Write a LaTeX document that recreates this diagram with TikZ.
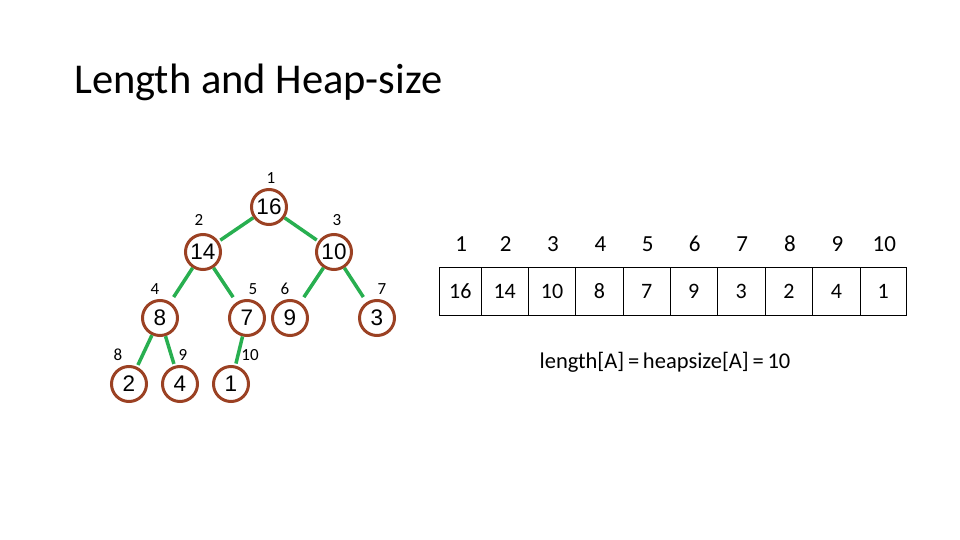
\documentclass[tikz,border=0pt]{standalone}
\usepackage{fontspec}
\setmainfont{Carlito}
\newfontfamily\numfont{Liberation Sans}
\definecolor{nodebrown}{RGB}{155,65,35}
\definecolor{edgegreen}{RGB}{40,175,80}
\begin{document}
\begin{tikzpicture}[x=1pt,y=-1pt,
  hnode/.style={circle,draw=nodebrown,line width=3pt,minimum size=35pt,inner sep=0pt,font=\numfont\fontsize{22.5}{23}\selectfont},
  hedge/.style={draw=edgegreen,line width=3.5pt,shorten >=2pt},
  idx/.style={font=\fontsize{17}{18}\selectfont,inner sep=0pt},
  cell/.style={draw=black,line width=0.8pt,minimum height=48pt,inner sep=0pt,font=\fontsize{22}{23}\selectfont},
  aidx/.style={font=\fontsize{23}{24}\selectfont,inner sep=0pt}]
\useasboundingbox (0,0) rectangle (960,540);
\node[anchor=base west,inner sep=0pt,font=\fontsize{42.5}{48}\selectfont] (title) at (74,94) {Length and Heap-size};
% tree
\node[hnode] (n1) at (269,207) {16};
\node[hnode] (n2) at (203,252) {14};
\node[hnode] (n3) at (334,252) {10};
\node[hnode] (n4) at (160,318) {8};
\node[hnode] (n5) at (247,318) {7};
\node[hnode] (n6) at (290,318) {9};
\node[hnode] (n7) at (377,318) {3};
\node[hnode] (n8) at (129,384) {2};
\node[hnode] (n9) at (180,384) {4};
\node[hnode] (n10) at (231,384) {1};
\draw[hedge] (n1) -- (n2);
\draw[hedge] (n1) -- (n3);
\draw[hedge,shorten >=6pt] (n2) -- (n4);
\draw[hedge,shorten >=6pt] (n2) -- (n5);
\draw[hedge,shorten >=6pt] (n3) -- (n6);
\draw[hedge,shorten >=6pt] (n3) -- (n7);
\draw[hedge] (n4) -- (n8);
\draw[hedge] (n4) -- (n9);
\draw[hedge] (n5) -- (n10);
\node[idx] (i1) at (271,178) {1};
\node[idx] (i2) at (199,220) {2};
\node[idx] (i3) at (337,220) {3};
\node[idx] (i4) at (155,289) {4};
\node[idx] (i5) at (253,289) {5};
\node[idx] (i6) at (285,289) {6};
\node[idx] (i7) at (382,289) {7};
\node[idx] (i8) at (118,355) {8};
\node[idx] (i9) at (183,355) {9};
\node[idx] (i10) at (250,355) {10};
% array
\foreach \l/\r/\v/\n [count=\k] in {439.5/481/16/1,481/528.3/14/2,528.3/575.7/10/3,575.7/623.3/8/4,623.3/670/7/5,670/717.3/9/6,717.3/765/3/7,765/812.7/2/8,812.7/860/4/9,860/906.5/1/10}{
  \node[cell,minimum width={\r pt-\l pt}] (c\k) at ({(\l+\r)/2},291) {\v};
  \node[aidx] (a\k) at ({(\l+\r)/2+1},244) {\n};
}
\node[inner sep=0pt,font=\fontsize{22.5}{24}\selectfont] (eq) at (665,362) {length[A]\,=\,heapsize[A]\,=\,10};
\end{tikzpicture}
\end{document}
